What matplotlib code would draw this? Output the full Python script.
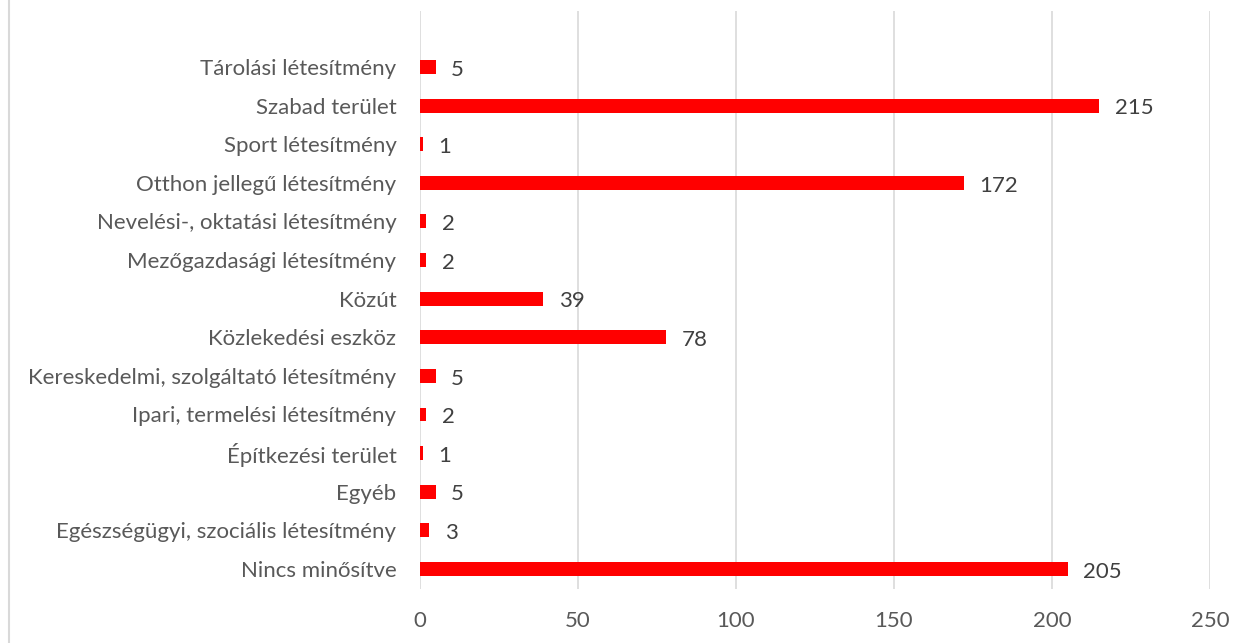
import matplotlib.pyplot as plt
from matplotlib.lines import Line2D

categories = ["Nincs minősítve", "Egészségügyi, szociális létesítmény", "Egyéb",
              "Építkezési terület", "Ipari, termelési létesítmény",
              "Kereskedelmi, szolgáltató létesítmény", "Közlekedési eszköz", "Közút",
              "Mezőgazdasági létesítmény", "Nevelési-, oktatási létesítmény",
              "Otthon jellegű létesítmény", "Sport létesítmény", "Szabad terület",
              "Tárolási létesítmény"]
values = [205, 3, 5, 1, 2, 5, 78, 39, 2, 2, 172, 1, 215, 5]
xticks = [0, 50, 100, 150, 200, 250]

plt.rcParams['font.family'] = ['Lato', 'DejaVu Sans']
txt = "#595959"
grid = "#d9d9d9"

fig = plt.figure(figsize=(12.48, 6.43), dpi=100)
ax = fig.add_axes([420/1248, 1-589/643, 790/1248, 578/643])

y = range(len(categories))
ax.barh(y, values, height=0.36, color="#ff0000", zorder=3)
for i, v in enumerate(values):
    ax.annotate(str(v), (v, i), xytext=(11, -2), textcoords="offset points",
                va="center", ha="left", fontsize=16, color="#404040")

ax.set_xlim(0, 250)
ax.set_ylim(-0.52, 13 + 1.45)
ax.set_xticks(xticks)
ax.set_yticks(list(y))
ax.set_yticklabels(categories)
ax.tick_params(axis="both", length=0, labelsize=16, labelcolor=txt)
ax.tick_params(axis="x", pad=16)
ax.tick_params(axis="y", pad=17)
ax.grid(axis="x", color=grid, linewidth=1.2, zorder=0)
for s in ax.spines.values():
    s.set_visible(False)

fig.add_artist(Line2D([9/1248, 9/1248], [0, 1], color=grid, linewidth=1.5))

fig.savefig("out.png", dpi=100)
